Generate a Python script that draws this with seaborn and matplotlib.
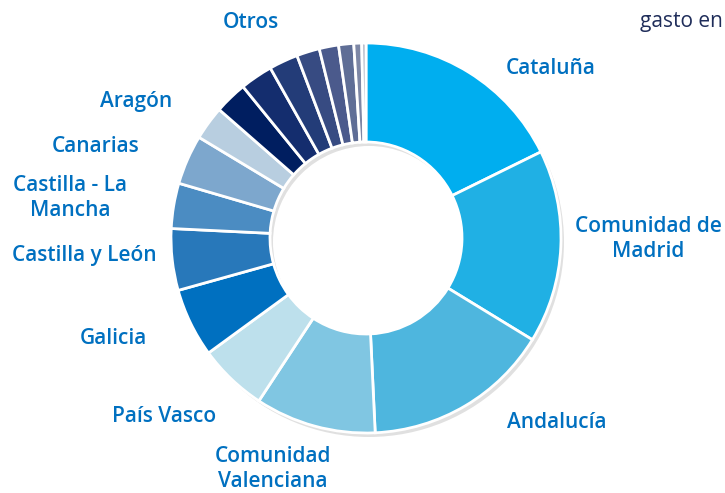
import matplotlib
matplotlib.use("Agg")
import matplotlib.pyplot as plt
import seaborn as sns

# regions and share of the total (%), clockwise from 12 o'clock
regions = ["Cataluña", "Comunidad de Madrid", "Andalucía", "Comunidad Valenciana",
           "País Vasco", "Galicia", "Castilla y León", "Castilla - La Mancha",
           "Canarias", "Aragón",
           "Otros 1", "Otros 2", "Otros 3", "Otros 4", "Otros 5", "Otros 6",
           "Otros 7", "Otros 8"]
shares = [17.7, 16.0, 15.5, 10.0,
          5.7, 5.7, 5.1, 3.75,
          4.1, 2.8,
          2.7, 2.7, 2.4, 1.9, 1.6, 1.25,
          0.65, 0.35]
colors = ["#00AEEF", "#20B0E4", "#4EB6DE", "#80C6E2",
          "#BDE0EC", "#0070C0", "#2878BA", "#4B8CC2",
          "#7DA7CD", "#B8CEE0",
          "#001E60", "#142D6E", "#233C78", "#374B82", "#4B5A8C", "#5F6E96",
          "#7D87A5", "#AFB4C3"]

# labels shown around the ring (text, x px, y px from top)
label_texts = ["Otros", "Cataluña", "Comunidad de\nMadrid", "Andalucía",
               "Comunidad\nValenciana", "País Vasco", "Galicia",
               "Castilla y León", "Castilla - La\nMancha", "Canarias", "Aragón"]
label_x = [251, 551, 648, 557, 273, 164, 113, 84, 70, 96, 136]
label_y = [23, 69, 239, 422, 469, 417, 338, 256, 198, 147, 101]

sns.set_theme(style="white")
plt.rcParams['font.family'] = ['Open Sans', 'DejaVu Sans']

W, H = 725, 493
fig = plt.figure(figsize=(W / 100, H / 100), dpi=100)
ax = fig.add_axes([0, 0, 1, 1])

cx, cy, r = 366, H - 238, 195

# soft shadow under the ring
ax.pie([1], colors=["#000000"], startangle=90, center=(cx + 3, cy - 4), radius=r,
       wedgeprops=dict(width=r - 96, alpha=0.12, linewidth=0))

ax.pie(shares, colors=colors, startangle=90, counterclock=False,
       center=(cx, cy), radius=r,
       wedgeprops=dict(width=r - 96, edgecolor="white", linewidth=2))

for t, x, y in zip(label_texts, label_x, label_y):
    ax.text(x, H - y, t, ha="center", va="center", fontsize=15,
            fontweight="semibold", color="#0070C0", linespacing=1.2)

ax.text(640, H - 21, "gasto en", ha="left", va="center", fontsize=15,
        color="#1F2D5A")

ax.set_xlim(0, W)
ax.set_ylim(0, H)
ax.set_aspect("equal")
ax.axis("off")

fig.savefig("out.png", dpi=100)
